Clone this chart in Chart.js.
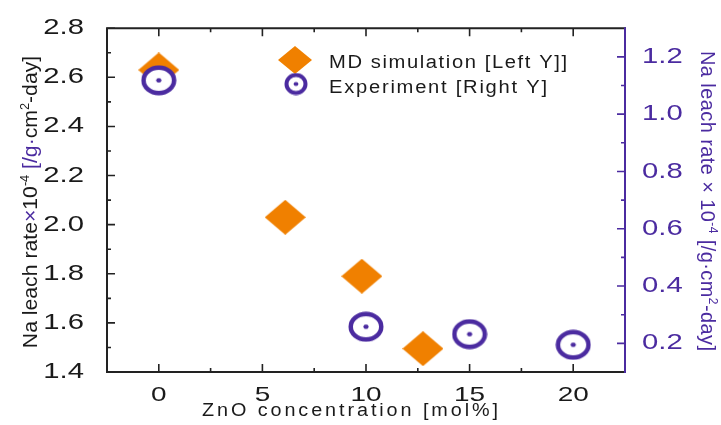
<!DOCTYPE html>
<html>
<head>
<meta charset="utf-8">
<script src="https://cdn.jsdelivr.net/npm/chart.js@4.4.1/dist/chart.umd.min.js"></script>
<style>
  html, body { margin: 0; padding: 0; background: #fff; }
  #c { display: block; }
</style>
</head>
<body>
<canvas id="c" width="721" height="425"></canvas>
<script>
// ---- data ----
const znoMD = [0, 6.1, 9.8, 12.75];
const rateMD = [2.63, 2.03, 1.79, 1.495];
const znoExp = [0, 10, 15, 20];
const rateExp = [1.118, 0.258, 0.232, 0.195];

const xTicks = [0, 5, 10, 15, 20];
const xMinor = [2.5, 7.5, 12.5, 17.5];
const leftTicks = [1.4, 1.6, 1.8, 2.0, 2.2, 2.4, 2.6, 2.8];
const leftMinor = [1.5, 1.7, 1.9, 2.1, 2.3, 2.5, 2.7];
const rightTicks = [0.2, 0.4, 0.6, 0.8, 1.0, 1.2];
const rightMinor = [0.3, 0.5, 0.7, 0.9, 1.1];

const ORANGE = '#F08000';
const PURPLE = '#4B2BA0';
const BLACK = '#1a1a1a';
const FAMILY = '"Liberation Sans", Arial, sans-serif';

// ---- canvas + horizontal text stretch for library-drawn tick labels ----
const canvas = document.getElementById('c');
const ctx = canvas.getContext('2d');
const origFill = ctx.fillText.bind(ctx);
const TICK_STRETCH = 1.33;
ctx.fillText = function (t, x, y, mw) {
  this.save();
  this.translate(x, y);
  this.scale(TICK_STRETCH, 1);
  if (mw === undefined) origFill(t, 0, 0); else origFill(t, 0, 0, mw);
  this.restore();
};

// ---- marker images ----
function makeDiamond(w, h) {
  const c = document.createElement('canvas');
  c.width = w; c.height = h;
  const g = c.getContext('2d');
  g.fillStyle = ORANGE;
  g.beginPath();
  g.moveTo(0, h / 2); g.lineTo(w / 2, 0); g.lineTo(w, h / 2); g.lineTo(w / 2, h);
  g.closePath(); g.fill();
  return c;
}
function makeRing(w, h, lw, dr) {
  const c = document.createElement('canvas');
  c.width = w; c.height = h;
  const g = c.getContext('2d');
  const cx = w / 2, cy = h / 2;
  g.beginPath();
  g.ellipse(cx, cy, w / 2 - lw / 2 - 0.5, h / 2 - lw / 2 - 0.5, 0, 0, Math.PI * 2);
  g.fillStyle = '#fff'; g.fill();
  g.lineWidth = lw; g.strokeStyle = PURPLE; g.stroke();
  g.beginPath();
  g.ellipse(cx, cy, dr * 1.2, dr, 0, 0, Math.PI * 2);
  g.fillStyle = PURPLE; g.fill();
  return c;
}
const diamondImg = makeDiamond(41, 35);
const ringImg = makeRing(36, 31, 4.5, 2.2);
const legDiamond = makeDiamond(34, 28);
const legRing = makeRing(24, 23, 4, 2);

// ---- rich text helper (own drawing, not stretched by patch) ----
function drawRich(g, segs, o) {
  const size = o.size, sx = o.sx || 1;
  const fontFor = s => (s.sup ? Math.round(size * 0.62) : size) + 'px ' + FAMILY;
  g.letterSpacing = '0px';
  let W = 0, n = 0;
  const widths = segs.map(s => { g.font = fontFor(s); const w = g.measureText(s.t).width; W += w; n += [...s.t].length; return w; });
  let ls = 0;
  if (o.target) ls = (o.target / sx - W) / Math.max(1, n - 1);
  const total = W + ls * (n - 1);
  g.save();
  g.scale(sx, 1);
  let cx = o.align === 'center' ? -total / 2 : 0;
  g.textBaseline = 'alphabetic';
  g.textAlign = 'left';
  segs.forEach((s, i) => {
    g.font = fontFor(s);
    g.fillStyle = s.c;
    g.letterSpacing = ls + 'px';
    origFill(s.t, cx, s.sup ? -size * 0.42 : 0);
    cx += widths[i] + ls * [...s.t].length;
  });
  g.letterSpacing = '0px';
  g.restore();
}

const decor = {
  id: 'decor',
  afterDraw(chart) {
    const g = chart.ctx;
    const a = chart.chartArea;
    const { x, y, y2 } = chart.scales;
    g.save();
    // frame
    g.lineCap = 'square';
    g.lineWidth = 2;
    g.strokeStyle = '#222';
    g.beginPath();
    g.moveTo(a.right, a.top); g.lineTo(a.left, a.top); g.lineTo(a.left, a.bottom); g.lineTo(a.right, a.bottom);
    g.stroke();
    g.strokeStyle = PURPLE;
    g.beginPath(); g.moveTo(a.right, a.top); g.lineTo(a.right, a.bottom); g.stroke();

    // inward ticks
    g.lineCap = 'butt';
    g.lineWidth = 1.6;
    g.strokeStyle = '#222';
    const tk = (list, len, fn) => list.forEach(v => fn(v, len));
    g.beginPath();
    tk(xTicks, 8, (v, L) => { const p = x.getPixelForValue(v); g.moveTo(p, a.bottom); g.lineTo(p, a.bottom - L); g.moveTo(p, a.top); g.lineTo(p, a.top + L); });
    tk(xMinor, 4, (v, L) => { const p = x.getPixelForValue(v); g.moveTo(p, a.bottom); g.lineTo(p, a.bottom - L); g.moveTo(p, a.top); g.lineTo(p, a.top + L); });
    tk(leftTicks, 8, (v, L) => { const p = y.getPixelForValue(v); g.moveTo(a.left, p); g.lineTo(a.left + L, p); });
    tk(leftMinor, 4, (v, L) => { const p = y.getPixelForValue(v); g.moveTo(a.left, p); g.lineTo(a.left + L, p); });
    g.stroke();
    g.strokeStyle = PURPLE;
    g.beginPath();
    tk(rightTicks, 8, (v, L) => { const p = y2.getPixelForValue(v); g.moveTo(a.right, p); g.lineTo(a.right - L, p); });
    tk(rightMinor, 4, (v, L) => { const p = y2.getPixelForValue(v); g.moveTo(a.right, p); g.lineTo(a.right - L, p); });
    g.stroke();

    // legend
    g.drawImage(legDiamond, 295 - legDiamond.width / 2, 60 - legDiamond.height / 2);
    g.drawImage(legRing, 296 - legRing.width / 2, 84 - legRing.height / 2);
    g.save(); g.translate(329, 68);
    drawRich(g, [{ t: 'MD simulation [Left Y]]', c: BLACK }], { size: 18, sx: 1.12, target: 238 });
    g.restore();
    g.save(); g.translate(329, 93);
    drawRich(g, [{ t: 'Experiment [Right Y]', c: BLACK }], { size: 18, sx: 1.12, target: 218 });
    g.restore();

    // x title
    g.save(); g.translate(350, 416);
    drawRich(g, [{ t: 'ZnO concentration [mol%]', c: BLACK }], { size: 18, sx: 1.1, target: 296, align: 'center' });
    g.restore();

    // left title
    g.save(); g.translate(37, 202); g.rotate(-Math.PI / 2);
    drawRich(g, [
      { t: 'Na leach rate', c: BLACK },
      { t: '×', c: PURPLE },
      { t: '10', c: BLACK },
      { t: '-4', c: BLACK, sup: true },
      { t: ' [/g·', c: PURPLE },
      { t: 'cm', c: BLACK },
      { t: '2', c: BLACK, sup: true },
      { t: '-day]', c: BLACK }
    ], { size: 20, sx: 1.06, align: 'center' });
    g.restore();

    // right title
    g.save(); g.translate(701, 201); g.rotate(Math.PI / 2);
    drawRich(g, [
      { t: 'Na leach rate × 10', c: PURPLE },
      { t: '-4', c: PURPLE, sup: true },
      { t: ' [/g·cm', c: PURPLE },
      { t: '2', c: PURPLE, sup: true },
      { t: '-day]', c: PURPLE }
    ], { size: 20, sx: 1.0, target: 300, align: 'center' });
    g.restore();

    g.restore();
  }
};

new Chart(ctx, {
  type: 'scatter',
  data: {
    datasets: [
      {
        label: 'MD simulation [Left Y]]',
        data: znoMD.map((v, i) => ({ x: v, y: rateMD[i] })),
        yAxisID: 'y',
        pointStyle: diamondImg,
        pointRadius: 18,
        pointHoverRadius: 18,
        order: 2
      },
      {
        label: 'Experiment [Right Y]',
        data: znoExp.map((v, i) => ({ x: v, y: rateExp[i] })),
        yAxisID: 'y2',
        pointStyle: ringImg,
        pointRadius: 16,
        pointHoverRadius: 16,
        order: 1
      }
    ]
  },
  options: {
    responsive: false,
    devicePixelRatio: 1,
    animation: false,
    events: [],
    layout: { padding: { top: 24, left: 0, right: 0, bottom: 0 } },
    plugins: { legend: { display: false }, tooltip: { enabled: false } },
    scales: {
      x: {
        type: 'linear', min: -2.5, max: 22.5,
        afterBuildTicks: s => { s.ticks = xTicks.map(v => ({ value: v })); },
        afterFit: s => { s.height = 53; },
        grid: { display: false }, border: { display: false },
        ticks: { color: BLACK, font: { family: FAMILY, size: 21 }, padding: 3, maxRotation: 0, callback: v => String(v) }
      },
      y: {
        type: 'linear', position: 'left', min: 1.4, max: 2.8,
        afterBuildTicks: s => { s.ticks = leftTicks.map(v => ({ value: v })); },
        afterFit: s => { s.width = 107; },
        grid: { display: false }, border: { display: false },
        ticks: { color: BLACK, font: { family: FAMILY, size: 22 }, padding: 15, callback: v => Number(v).toFixed(1) }
      },
      y2: {
        type: 'linear', position: 'right', min: 0.1, max: 1.3,
        afterBuildTicks: s => { s.ticks = rightTicks.map(v => ({ value: v })); },
        afterFit: s => { s.width = 96; },
        grid: { display: false }, border: { display: false },
        ticks: { color: PURPLE, font: { family: FAMILY, size: 22 }, padding: 9, callback: v => Number(v).toFixed(1) }
      }
    }
  },
  plugins: [decor]
});
</script>
</body>
</html>
